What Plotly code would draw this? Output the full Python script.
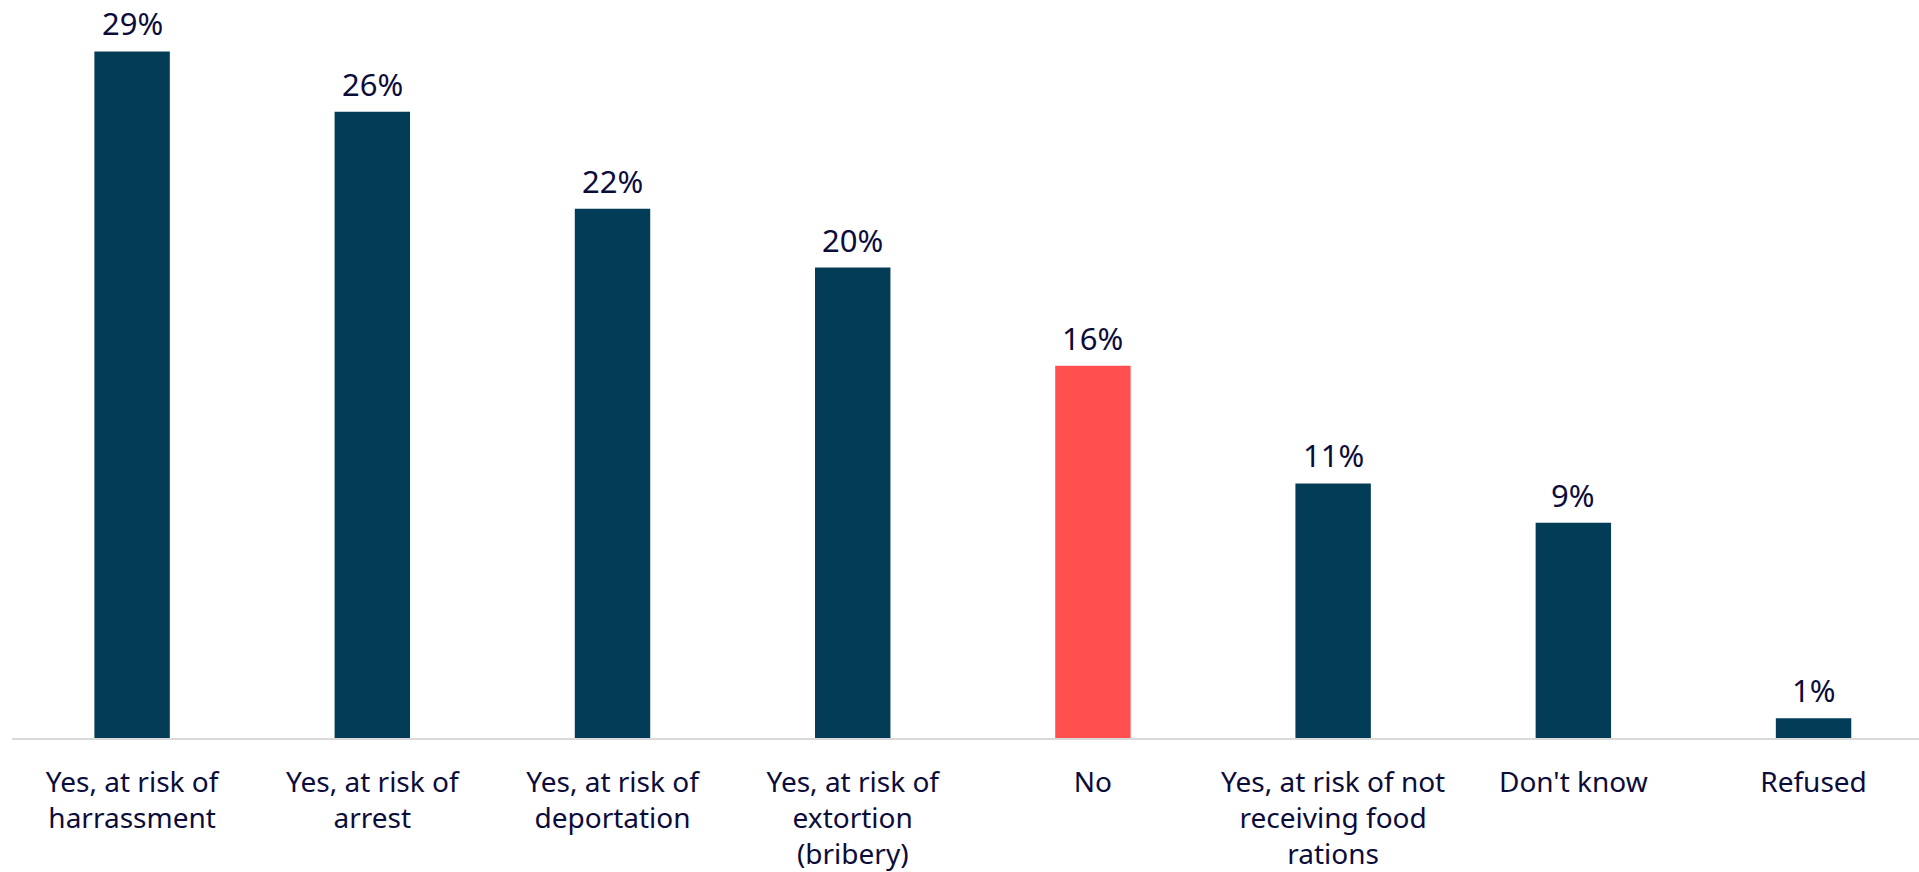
import plotly.graph_objects as go

categories = ["harrassment", "arrest", "deportation", "extortion", "no", "food", "dontknow", "refused"]
tick_labels = [
    "Yes, at risk of<br>harrassment",
    "Yes, at risk of<br>arrest",
    "Yes, at risk of<br>deportation",
    "Yes, at risk of<br>extortion<br>(bribery)",
    "No",
    "Yes, at risk of not<br>receiving food<br>rations",
    "Don't know",
    "Refused",
]
values = [29.0, 26.45, 22.35, 19.87, 15.72, 10.75, 9.09, 0.83]
highlight = "no"

NAVY = "#023c56"
RED = "#ff5050"
TEXT = "#0c0c3a"
FONT = "Noto Sans"

colors = [RED if c == highlight else NAVY for c in categories]

fig = go.Figure()
fig.add_trace(go.Bar(
    x=categories,
    y=values,
    marker=dict(color=colors, line=dict(width=0)),
    width=0.314,
    hoverinfo="skip",
))

for c, v in zip(categories, values):
    fig.add_annotation(
        x=c, y=v, text=f"{v:.0f}%", showarrow=False,
        yanchor="bottom", yshift=5,
        font=dict(family=FONT, size=31, color=TEXT),
    )

fig.update_layout(
    width=1919, height=872,
    margin=dict(l=12, r=0, t=0, b=130),
    paper_bgcolor="white", plot_bgcolor="white",
    showlegend=False,
    font=dict(family=FONT, color=TEXT),
)
fig.update_xaxes(
    type="category",
    range=[-0.5, 7.439],
    tickvals=categories,
    ticktext=tick_labels,
    tickfont=dict(family=FONT, size=28, color=TEXT),
    showline=True, linecolor="#d9d9d9", linewidth=2,
    ticks="outside", ticklen=18, tickcolor="rgba(0,0,0,0)",
    showgrid=False, zeroline=False,
)
fig.update_yaxes(
    range=[0, 31.17],
    visible=False, showgrid=False, zeroline=False,
)

fig.write_html(
    "out.html",
    config={"displayModeBar": False},
    post_script="document.body.style.margin='0';document.body.style.overflow='hidden';",
)
